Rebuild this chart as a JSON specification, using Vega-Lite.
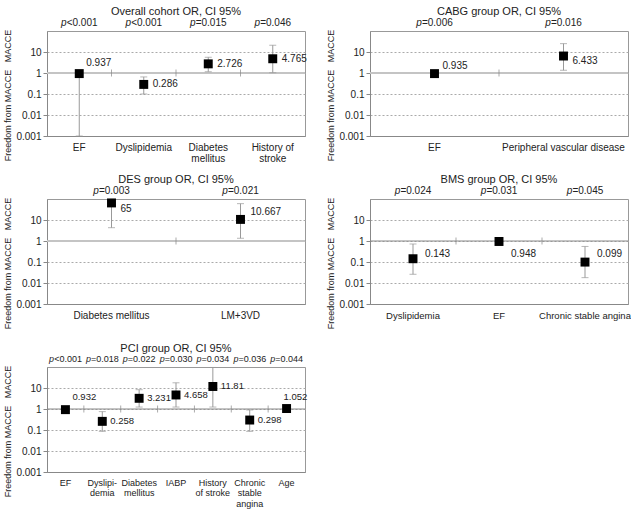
{
"$schema": "https://vega.github.io/schema/vega-lite/v6.json",
"padding": {"left": 3, "top": 5, "right": 0, "bottom": 0},
"datasets": {"rows": [
{"group": "Overall", "cat": "EF", "or": 0.937, "lo": 0.001, "hi": 1.0, "p": "<0.001"},
{"group": "Overall", "cat": "Dyslipidemia", "or": 0.286, "lo": 0.1, "hi": 0.65, "p": "<0.001"},
{"group": "Overall", "cat": "Diabetes|mellitus", "or": 2.726, "lo": 1.15, "hi": 5.6, "p": "=0.015"},
{"group": "Overall", "cat": "History of|stroke", "or": 4.765, "lo": 1.03, "hi": 21, "p": "=0.046"},
{"group": "CABG", "cat": "EF", "or": 0.935, "lo": 0.9, "hi": 0.97, "p": "=0.006"},
{"group": "CABG", "cat": "Peripheral vascular disease", "or": 6.433, "lo": 1.35, "hi": 25, "p": "=0.016"},
{"group": "DES", "cat": "Diabetes mellitus", "or": 65, "lo": 4.3, "hi": 70, "p": "=0.003"},
{"group": "DES", "cat": "LM+3VD", "or": 10.667, "lo": 1.35, "hi": 60, "p": "=0.021"},
{"group": "BMS", "cat": "Dyslipidemia", "or": 0.143, "lo": 0.026, "hi": 0.72, "p": "=0.024"},
{"group": "BMS", "cat": "EF", "or": 0.948, "lo": 0.92, "hi": 0.97, "p": "=0.031"},
{"group": "BMS", "cat": "Chronic stable angina", "or": 0.099, "lo": 0.018, "hi": 0.55, "p": "=0.045"},
{"group": "PCI", "cat": "EF", "or": 0.932, "lo": 0.9, "hi": 0.96, "p": "<0.001"},
{"group": "PCI", "cat": "Dyslipi-|demia", "or": 0.258, "lo": 0.086, "hi": 0.75, "p": "=0.018"},
{"group": "PCI", "cat": "Diabetes|mellitus", "or": 3.231, "lo": 1.24, "hi": 8.3, "p": "=0.022"},
{"group": "PCI", "cat": "IABP", "or": 4.658, "lo": 1.24, "hi": 17.7, "p": "=0.030"},
{"group": "PCI", "cat": "History|of stroke", "or": 11.81, "lo": 1.24, "hi": 95, "p": "=0.034"},
{"group": "PCI", "cat": "Chronic|stable|angina", "or": 0.298, "lo": 0.086, "hi": 0.9, "p": "=0.036"},
{"group": "PCI", "cat": "Age", "or": 1.052, "lo": 1.02, "hi": 1.08, "p": "=0.044"}
]},
"columns": 2,
"bounds": "flush",
"spacing": {"row": 63, "column": 65},
"concat": [
{
"width": 258, "height": 105,
"title": "Overall cohort OR, CI 95%",
"data": {"name": "rows"},
"transform": [{"filter": "datum.group === 'Overall'"}],
"layer": [
{"transform": [{"aggregate": [{"op": "count", "as": "n"}]}], "mark": {"type": "rule", "color": "#c4c4c4", "strokeWidth": 2}, "encoding": {"y": {"datum": 1, "type": "quantitative"}}},
{"mark": {"type": "rule", "color": "#999"}, "encoding": {
 "x": {"field": "cat", "type": "nominal", "sort": null, "scale": {"type": "band", "paddingInner": 0, "paddingOuter": 0}, "axis": {"orient": "bottom", "ticks": false, "domainColor": "#888", "labelAngle": 0, "title": null, "labelExpr": "split(datum.label, '|')", "labelPadding": 6, "labelLineHeight": 11, "labelBaseline": "top", "grid": false}},
 "y": {"field": "lo", "type": "quantitative", "scale": {"type": "log", "domain": [0.001, 100], "nice": false}, "axis": {"values": [0.001, 0.01, 0.1, 1, 10], "format": "~g", "title": "Freedom from MACCE\u00a0\u00a0\u00a0MACCE", "titleY": 64, "titleFontSize": 9, "grid": true, "gridDash": [2, 2], "gridColor": "#aaa", "tickSize": 4, "domainColor": "#888", "tickColor": "#888", "labelPadding": 2, "titlePadding": 3}},
 "y2": {"field": "hi"}}},
{"mark": {"type": "tick", "orient": "horizontal", "size": 7, "thickness": 1, "color": "#999"}, "encoding": {"x": {"field": "cat", "type": "nominal", "sort": null}, "y": {"field": "hi", "type": "quantitative"}}},
{"mark": {"type": "tick", "orient": "horizontal", "size": 7, "thickness": 1, "color": "#999"}, "encoding": {"x": {"field": "cat", "type": "nominal", "sort": null}, "y": {"field": "lo", "type": "quantitative"}}},
{"mark": {"type": "square", "size": 80, "color": "#000", "opacity": 1}, "encoding": {"x": {"field": "cat", "type": "nominal", "sort": null}, "y": {"field": "or", "type": "quantitative"}}},
{"transform": [{"filter": "datum.or < 0.9 || datum.or > 1.1"}], "mark": {"type": "text", "align": "left", "dx": 9}, "encoding": {"x": {"field": "cat", "type": "nominal", "sort": null}, "y": {"field": "or", "type": "quantitative"}, "text": {"field": "or", "type": "quantitative", "format": "~g"}}},
{"transform": [{"filter": "datum.or >= 0.9 && datum.or <= 1.1"}], "mark": {"type": "text", "align": "left", "dx": 7, "dy": -11}, "encoding": {"x": {"field": "cat", "type": "nominal", "sort": null}, "y": {"field": "or", "type": "quantitative"}, "text": {"field": "or", "type": "quantitative", "format": "~g"}}},
{"mark": {"type": "text", "baseline": "bottom", "align": "right", "dx": -12.6, "dy": -3, "fontStyle": "italic"}, "encoding": {"x": {"field": "cat", "type": "nominal", "sort": null}, "y": {"datum": 100, "type": "quantitative"}, "text": {"value": "p"}}},
{"mark": {"type": "text", "baseline": "bottom", "align": "left", "dx": -12.6, "dy": -3}, "encoding": {"x": {"field": "cat", "type": "nominal", "sort": null}, "y": {"datum": 100, "type": "quantitative"}, "text": {"field": "p"}}},
{"transform": [{"window": [{"op": "row_number", "as": "rn"}]}, {"filter": "datum.rn > 1"}], "mark": {"type": "tick", "orient": "vertical", "size": 7, "thickness": 1, "color": "#888"}, "encoding": {"x": {"field": "cat", "type": "nominal", "sort": null, "bandPosition": 0}, "y": {"datum": 1, "type": "quantitative"}}}
]
},
{
"width": 258, "height": 105,
"title": "CABG group OR, CI 95%",
"data": {"name": "rows"},
"transform": [{"filter": "datum.group === 'CABG'"}],
"layer": [
{"transform": [{"aggregate": [{"op": "count", "as": "n"}]}], "mark": {"type": "rule", "color": "#c4c4c4", "strokeWidth": 2}, "encoding": {"y": {"datum": 1, "type": "quantitative"}}},
{"mark": {"type": "rule", "color": "#999"}, "encoding": {
 "x": {"field": "cat", "type": "nominal", "sort": null, "scale": {"type": "band", "paddingInner": 0, "paddingOuter": 0}, "axis": {"orient": "bottom", "ticks": false, "domainColor": "#888", "labelAngle": 0, "title": null, "labelExpr": "split(datum.label, '|')", "labelPadding": 6, "labelLineHeight": 11, "labelBaseline": "top", "grid": false}},
 "y": {"field": "lo", "type": "quantitative", "scale": {"type": "log", "domain": [0.001, 100], "nice": false}, "axis": {"values": [0.001, 0.01, 0.1, 1, 10], "format": "~g", "title": "Freedom from MACCE\u00a0\u00a0\u00a0MACCE", "titleY": 64, "titleFontSize": 9, "grid": true, "gridDash": [2, 2], "gridColor": "#aaa", "tickSize": 4, "domainColor": "#888", "tickColor": "#888", "labelPadding": 2, "titlePadding": 3}},
 "y2": {"field": "hi"}}},
{"mark": {"type": "tick", "orient": "horizontal", "size": 7, "thickness": 1, "color": "#999"}, "encoding": {"x": {"field": "cat", "type": "nominal", "sort": null}, "y": {"field": "hi", "type": "quantitative"}}},
{"mark": {"type": "tick", "orient": "horizontal", "size": 7, "thickness": 1, "color": "#999"}, "encoding": {"x": {"field": "cat", "type": "nominal", "sort": null}, "y": {"field": "lo", "type": "quantitative"}}},
{"mark": {"type": "square", "size": 80, "color": "#000", "opacity": 1}, "encoding": {"x": {"field": "cat", "type": "nominal", "sort": null}, "y": {"field": "or", "type": "quantitative"}}},
{"transform": [{"filter": "datum.or < 0.9 || datum.or > 1.1"}], "mark": {"type": "text", "align": "left", "dx": 9, "dy": 5}, "encoding": {"x": {"field": "cat", "type": "nominal", "sort": null}, "y": {"field": "or", "type": "quantitative"}, "text": {"field": "or", "type": "quantitative", "format": "~g"}}},
{"transform": [{"filter": "datum.or >= 0.9 && datum.or <= 1.1"}], "mark": {"type": "text", "align": "left", "dx": 8, "dy": -8}, "encoding": {"x": {"field": "cat", "type": "nominal", "sort": null}, "y": {"field": "or", "type": "quantitative"}, "text": {"field": "or", "type": "quantitative", "format": "~g"}}},
{"mark": {"type": "text", "baseline": "bottom", "align": "right", "dx": -12.6, "dy": -3, "fontStyle": "italic"}, "encoding": {"x": {"field": "cat", "type": "nominal", "sort": null}, "y": {"datum": 100, "type": "quantitative"}, "text": {"value": "p"}}},
{"mark": {"type": "text", "baseline": "bottom", "align": "left", "dx": -12.6, "dy": -3}, "encoding": {"x": {"field": "cat", "type": "nominal", "sort": null}, "y": {"datum": 100, "type": "quantitative"}, "text": {"field": "p"}}},
{"transform": [{"window": [{"op": "row_number", "as": "rn"}]}, {"filter": "datum.rn > 1"}], "mark": {"type": "tick", "orient": "vertical", "size": 7, "thickness": 1, "color": "#888"}, "encoding": {"x": {"field": "cat", "type": "nominal", "sort": null, "bandPosition": 0}, "y": {"datum": 1, "type": "quantitative"}}}
]
},
{
"width": 258, "height": 105,
"title": "DES group OR, CI 95%",
"data": {"name": "rows"},
"transform": [{"filter": "datum.group === 'DES'"}],
"layer": [
{"transform": [{"aggregate": [{"op": "count", "as": "n"}]}], "mark": {"type": "rule", "color": "#c4c4c4", "strokeWidth": 2}, "encoding": {"y": {"datum": 1, "type": "quantitative"}}},
{"mark": {"type": "rule", "color": "#999"}, "encoding": {
 "x": {"field": "cat", "type": "nominal", "sort": null, "scale": {"type": "band", "paddingInner": 0, "paddingOuter": 0}, "axis": {"orient": "bottom", "ticks": false, "domainColor": "#888", "labelAngle": 0, "title": null, "labelExpr": "split(datum.label, '|')", "labelPadding": 6, "labelLineHeight": 11, "labelBaseline": "top", "grid": false}},
 "y": {"field": "lo", "type": "quantitative", "scale": {"type": "log", "domain": [0.001, 100], "nice": false}, "axis": {"values": [0.001, 0.01, 0.1, 1, 10], "format": "~g", "title": "Freedom from MACCE\u00a0\u00a0\u00a0MACCE", "titleY": 64, "titleFontSize": 9, "grid": true, "gridDash": [2, 2], "gridColor": "#aaa", "tickSize": 4, "domainColor": "#888", "tickColor": "#888", "labelPadding": 2, "titlePadding": 3}},
 "y2": {"field": "hi"}}},
{"mark": {"type": "tick", "orient": "horizontal", "size": 7, "thickness": 1, "color": "#999"}, "encoding": {"x": {"field": "cat", "type": "nominal", "sort": null}, "y": {"field": "hi", "type": "quantitative"}}},
{"mark": {"type": "tick", "orient": "horizontal", "size": 7, "thickness": 1, "color": "#999"}, "encoding": {"x": {"field": "cat", "type": "nominal", "sort": null}, "y": {"field": "lo", "type": "quantitative"}}},
{"mark": {"type": "square", "size": 80, "color": "#000", "opacity": 1}, "encoding": {"x": {"field": "cat", "type": "nominal", "sort": null}, "y": {"field": "or", "type": "quantitative"}}},
{"transform": [{"filter": "datum.or > 20"}], "mark": {"type": "text", "align": "left", "dx": 9, "dy": 6}, "encoding": {"x": {"field": "cat", "type": "nominal", "sort": null}, "y": {"field": "or", "type": "quantitative"}, "text": {"field": "or", "type": "quantitative", "format": "~g"}}},
{"transform": [{"filter": "datum.or <= 20"}], "mark": {"type": "text", "align": "left", "dx": 10, "dy": -7}, "encoding": {"x": {"field": "cat", "type": "nominal", "sort": null}, "y": {"field": "or", "type": "quantitative"}, "text": {"field": "or", "type": "quantitative", "format": "~g"}}},
{"mark": {"type": "text", "baseline": "bottom", "align": "right", "dx": -12.6, "dy": -3, "fontStyle": "italic"}, "encoding": {"x": {"field": "cat", "type": "nominal", "sort": null}, "y": {"datum": 100, "type": "quantitative"}, "text": {"value": "p"}}},
{"mark": {"type": "text", "baseline": "bottom", "align": "left", "dx": -12.6, "dy": -3}, "encoding": {"x": {"field": "cat", "type": "nominal", "sort": null}, "y": {"datum": 100, "type": "quantitative"}, "text": {"field": "p"}}},
{"transform": [{"window": [{"op": "row_number", "as": "rn"}]}, {"filter": "datum.rn > 1"}], "mark": {"type": "tick", "orient": "vertical", "size": 7, "thickness": 1, "color": "#888"}, "encoding": {"x": {"field": "cat", "type": "nominal", "sort": null, "bandPosition": 0}, "y": {"datum": 1, "type": "quantitative"}}}
]
},
{
"width": 258, "height": 105,
"title": "BMS group OR, CI 95%",
"data": {"name": "rows"},
"transform": [{"filter": "datum.group === 'BMS'"}],
"layer": [
{"transform": [{"aggregate": [{"op": "count", "as": "n"}]}], "mark": {"type": "rule", "color": "#888", "strokeWidth": 1}, "encoding": {"y": {"datum": 1, "type": "quantitative"}}},
{"mark": {"type": "rule", "color": "#999"}, "encoding": {
 "x": {"field": "cat", "type": "nominal", "sort": null, "scale": {"type": "band", "paddingInner": 0, "paddingOuter": 0}, "axis": {"orient": "bottom", "ticks": false, "domainColor": "#888", "labelAngle": 0, "title": null, "labelExpr": "split(datum.label, '|')", "labelPadding": 6, "labelLineHeight": 11, "labelFontSize": 9.5, "labelBaseline": "top", "grid": false}},
 "y": {"field": "lo", "type": "quantitative", "scale": {"type": "log", "domain": [0.001, 100], "nice": false}, "axis": {"values": [0.001, 0.01, 0.1, 1, 10], "format": "~g", "title": "Freedom from MACCE\u00a0\u00a0\u00a0MACCE", "titleY": 64, "titleFontSize": 9, "grid": true, "gridDash": [2, 2], "gridColor": "#aaa", "tickSize": 4, "domainColor": "#888", "tickColor": "#888", "labelPadding": 2, "titlePadding": 3}},
 "y2": {"field": "hi"}}},
{"mark": {"type": "tick", "orient": "horizontal", "size": 7, "thickness": 1, "color": "#999"}, "encoding": {"x": {"field": "cat", "type": "nominal", "sort": null}, "y": {"field": "hi", "type": "quantitative"}}},
{"mark": {"type": "tick", "orient": "horizontal", "size": 7, "thickness": 1, "color": "#999"}, "encoding": {"x": {"field": "cat", "type": "nominal", "sort": null}, "y": {"field": "lo", "type": "quantitative"}}},
{"mark": {"type": "square", "size": 80, "color": "#000", "opacity": 1}, "encoding": {"x": {"field": "cat", "type": "nominal", "sort": null}, "y": {"field": "or", "type": "quantitative"}}},
{"mark": {"type": "text", "align": "left", "dx": 12}, "encoding": {"x": {"field": "cat", "type": "nominal", "sort": null}, "y": {"datum": 0.24, "type": "quantitative"}, "text": {"field": "or", "type": "quantitative", "format": "~g"}}},
{"mark": {"type": "text", "baseline": "bottom", "align": "right", "dx": -12.6, "dy": -3, "fontStyle": "italic"}, "encoding": {"x": {"field": "cat", "type": "nominal", "sort": null}, "y": {"datum": 100, "type": "quantitative"}, "text": {"value": "p"}}},
{"mark": {"type": "text", "baseline": "bottom", "align": "left", "dx": -12.6, "dy": -3}, "encoding": {"x": {"field": "cat", "type": "nominal", "sort": null}, "y": {"datum": 100, "type": "quantitative"}, "text": {"field": "p"}}},
{"transform": [{"window": [{"op": "row_number", "as": "rn"}]}, {"filter": "datum.rn > 1"}], "mark": {"type": "tick", "orient": "vertical", "size": 7, "thickness": 1, "color": "#888"}, "encoding": {"x": {"field": "cat", "type": "nominal", "sort": null, "bandPosition": 0}, "y": {"datum": 1, "type": "quantitative"}}}
]
},
{
"width": 258, "height": 105,
"title": "PCI group OR, CI 95%",
"data": {"name": "rows"},
"transform": [{"filter": "datum.group === 'PCI'"}],
"layer": [
{"transform": [{"aggregate": [{"op": "count", "as": "n"}]}], "mark": {"type": "rule", "color": "#888", "strokeWidth": 1}, "encoding": {"y": {"datum": 1, "type": "quantitative"}}},
{"mark": {"type": "rule", "color": "#999"}, "encoding": {
 "x": {"field": "cat", "type": "nominal", "sort": null, "scale": {"type": "band", "paddingInner": 0, "paddingOuter": 0}, "axis": {"orient": "bottom", "ticks": false, "domainColor": "#888", "labelAngle": 0, "title": null, "labelExpr": "split(datum.label, '|')", "labelPadding": 6, "labelLineHeight": 10.5, "labelFontSize": 9, "labelBaseline": "top", "grid": false}},
 "y": {"field": "lo", "type": "quantitative", "scale": {"type": "log", "domain": [0.001, 100], "nice": false}, "axis": {"values": [0.001, 0.01, 0.1, 1, 10], "format": "~g", "title": "Freedom from MACCE\u00a0\u00a0\u00a0MACCE", "titleY": 64, "titleFontSize": 9, "grid": true, "gridDash": [2, 2], "gridColor": "#aaa", "tickSize": 4, "domainColor": "#888", "tickColor": "#888", "labelPadding": 2, "titlePadding": 3}},
 "y2": {"field": "hi"}}},
{"mark": {"type": "tick", "orient": "horizontal", "size": 7, "thickness": 1, "color": "#999"}, "encoding": {"x": {"field": "cat", "type": "nominal", "sort": null}, "y": {"field": "hi", "type": "quantitative"}}},
{"mark": {"type": "tick", "orient": "horizontal", "size": 7, "thickness": 1, "color": "#999"}, "encoding": {"x": {"field": "cat", "type": "nominal", "sort": null}, "y": {"field": "lo", "type": "quantitative"}}},
{"mark": {"type": "square", "size": 80, "color": "#000", "opacity": 1}, "encoding": {"x": {"field": "cat", "type": "nominal", "sort": null}, "y": {"field": "or", "type": "quantitative"}}},
{"transform": [{"filter": "datum.or < 0.9 || datum.or > 1.1"}], "mark": {"type": "text", "align": "left", "dx": 8, "fontSize": 9.5}, "encoding": {"x": {"field": "cat", "type": "nominal", "sort": null}, "y": {"field": "or", "type": "quantitative"}, "text": {"field": "or", "type": "quantitative", "format": "~g"}}},
{"transform": [{"filter": "datum.or >= 0.9 && datum.or < 1"}], "mark": {"type": "text", "align": "left", "dx": 7, "dy": -13, "fontSize": 9.5}, "encoding": {"x": {"field": "cat", "type": "nominal", "sort": null}, "y": {"field": "or", "type": "quantitative"}, "text": {"field": "or", "type": "quantitative", "format": "~g"}}},
{"transform": [{"filter": "datum.or >= 1 && datum.or <= 1.1"}], "mark": {"type": "text", "align": "left", "dx": -3, "dy": -12, "fontSize": 9.5}, "encoding": {"x": {"field": "cat", "type": "nominal", "sort": null}, "y": {"field": "or", "type": "quantitative"}, "text": {"field": "or", "type": "quantitative", "format": "~g"}}},
{"mark": {"type": "text", "baseline": "bottom", "align": "right", "dx": -11.3, "dy": -3, "fontSize": 9, "fontStyle": "italic"}, "encoding": {"x": {"field": "cat", "type": "nominal", "sort": null}, "y": {"datum": 100, "type": "quantitative"}, "text": {"value": "p"}}},
{"mark": {"type": "text", "baseline": "bottom", "align": "left", "dx": -11.3, "dy": -3, "fontSize": 9}, "encoding": {"x": {"field": "cat", "type": "nominal", "sort": null}, "y": {"datum": 100, "type": "quantitative"}, "text": {"field": "p"}}},
{"transform": [{"window": [{"op": "row_number", "as": "rn"}]}, {"filter": "datum.rn > 1"}], "mark": {"type": "tick", "orient": "vertical", "size": 7, "thickness": 1, "color": "#888"}, "encoding": {"x": {"field": "cat", "type": "nominal", "sort": null, "bandPosition": 0}, "y": {"datum": 1, "type": "quantitative"}}}
]
}
],
"config": {
 "font": "Liberation Sans, Arial, sans-serif",
 "view": {"stroke": "#999"},
 "title": {"fontSize": 11, "fontWeight": "normal", "color": "#222", "offset": 1},
 "axis": {"labelFontSize": 10, "titleFontSize": 10, "titleFontWeight": "normal", "labelColor": "#222", "titleColor": "#222"},
 "text": {"fontSize": 10, "color": "#222"}
}
}
